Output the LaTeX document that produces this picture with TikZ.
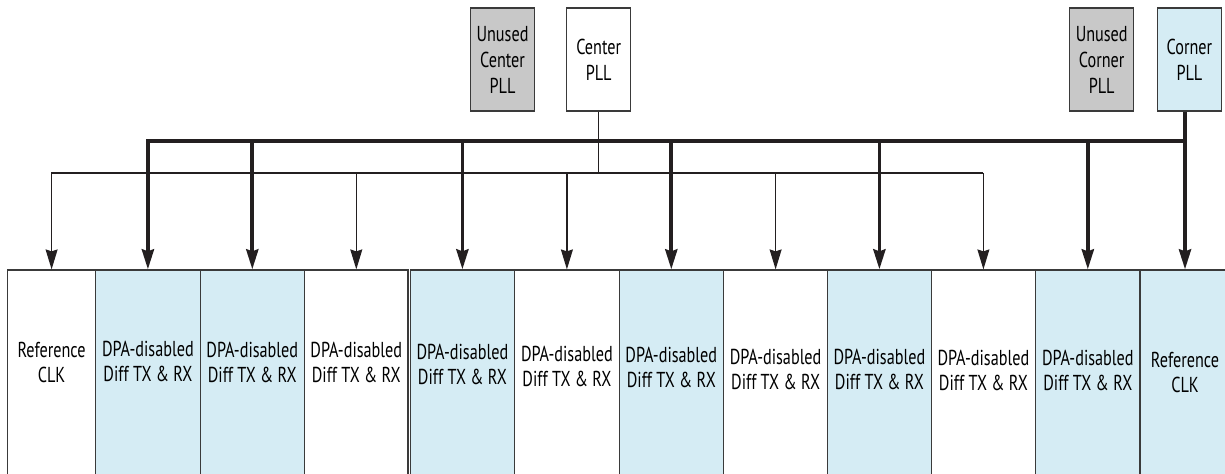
\documentclass[tikz,border=0pt]{standalone}
\usepackage{fontspec}
\setmainfont{PT Sans}[FakeStretch=0.75]
\usepackage{xcolor}
\usetikzlibrary{arrows.meta}

\definecolor{pllblue}{HTML}{D5ECF4}
\definecolor{unusedgray}{HTML}{C8C8C8}
\definecolor{wireblack}{HTML}{231F20}
\definecolor{edgegray}{HTML}{3A3A3A}

\begin{document}
\begin{tikzpicture}[x=0.5pt,y=-0.5pt,>={Stealth[length=10pt,width=6pt,inset=1pt]},
  pll/.style={rectangle,draw=edgegray,line width=0.6pt,minimum width=32pt,minimum height=51.5pt,inner sep=0pt,align=center,font=\fontsize{10.8}{13}\selectfont},
  slot/.style={rectangle,draw=edgegray,line width=0.6pt,minimum width=52.2pt,minimum height=105pt,inner sep=0pt},
  slottext/.style={align=center,inner sep=0pt,font=\fontsize{10.8}{12.5}\selectfont},
  cornerwire/.style={draw=wireblack,line width=1.9pt},
  centerwire/.style={draw=wireblack,line width=0.65pt}]
  \useasboundingbox (0,0) rectangle (1225,474);
  \clip (0,0) rectangle (1225,474);
  % PLLs
  \node[pll,fill=unusedgray] (ucenter) at (502.5,59.5) {Unused\\Center\\PLL};
  \node[pll,fill=white] (center) at (598.7,59.5) {Center\\PLL};
  \node[pll,fill=unusedgray] (ucorner) at (1101.7,59.5) {Unused\\Corner\\PLL};
  \node[pll,fill=pllblue] (corner) at (1189.4,59.5) {Corner\\PLL};
  % I/O slots
  \node[slot,fill=white,minimum width=44.1pt] (b1) at (51.6,375) {};
  \node[slot,fill=pllblue] (b2) at (147.9,375) {};
  \node[slot,fill=pllblue] (b3) at (252.3,375) {};
  \node[slot,fill=white,minimum width=51.75pt] (b4) at (356.3,375) {};
  \node[slot,fill=pllblue] (b5) at (462.4,375) {};
  \node[slot,fill=white] (b6) at (566.9,375) {};
  \node[slot,fill=pllblue] (b7) at (671.3,375) {};
  \node[slot,fill=white] (b8) at (775.6,375) {};
  \node[slot,fill=pllblue] (b9) at (879.4,375) {};
  \node[slot,fill=white] (b10) at (983.4,375) {};
  \node[slot,fill=pllblue] (b11) at (1087.8,375) {};
  \node[slot,fill=pllblue,minimum width=45pt] (b12) at (1185,375) {};
  \node[slottext] (l1) at (51.6,362.5) {Reference\\CLK};
  \node[slottext] (l2) at (147.9,361) {DPA-disabled\\Diff TX \& RX};
  \node[slottext] (l3) at (252.3,362.5) {DPA-disabled\\Diff TX \& RX};
  \node[slottext] (l4) at (356.3,362.5) {DPA-disabled\\Diff TX \& RX};
  \node[slottext] (l5) at (462.4,364) {DPA-disabled\\Diff TX \& RX};
  \node[slottext] (l6) at (566.9,366) {DPA-disabled\\Diff TX \& RX};
  \node[slottext] (l7) at (671.3,367.5) {DPA-disabled\\Diff TX \& RX};
  \node[slottext] (l8) at (775.6,369) {DPA-disabled\\Diff TX \& RX};
  \node[slottext] (l9) at (879.4,369) {DPA-disabled\\Diff TX \& RX};
  \node[slottext] (l10) at (983.4,370.5) {DPA-disabled\\Diff TX \& RX};
  \node[slottext] (l11) at (1087.8,370.5) {DPA-disabled\\Diff TX \& RX};
  \node[slottext] (l12) at (1185,372.5) {Reference\\CLK};
  \coordinate (cornerbus) at (0,141);
  \coordinate (centerbus) at (0,173);
  % center PLL clock tree
  \draw[centerwire] (center.south) -- (center.south |- centerbus);
  \draw[centerwire,->] (b10.north |- centerbus) -- (b1.north |- centerbus) -- (b1.north);
  \foreach \b in {b4,b6,b8,b10}
    \draw[centerwire,->] (\b.north |- centerbus) -- (\b.north);
  % corner PLL clock tree
  \draw[cornerwire,->] (b12.north |- corner.south) -- (b12.north);
  \draw[cornerwire,->] (b12.north |- cornerbus) -- (b2.north |- cornerbus) -- (b2.north);
  \foreach \b in {b3,b5,b7,b9,b11}
    \draw[cornerwire,->] (\b.north |- cornerbus) -- (\b.north);
\end{tikzpicture}
\end{document}
